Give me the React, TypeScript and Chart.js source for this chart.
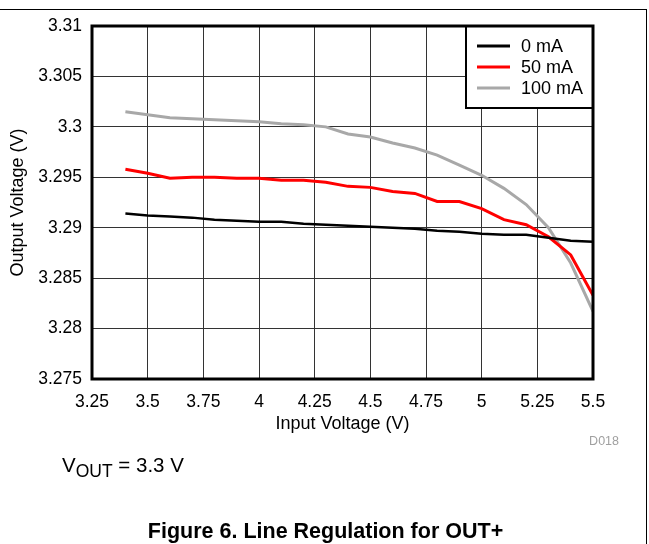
import React, { useEffect, useRef } from 'react';
import { Chart, registerables } from 'chart.js';

Chart.register(...registerables);

const inputVoltage = [3.4, 3.5, 3.6, 3.7, 3.8, 3.9, 4.0, 4.1, 4.2, 4.3, 4.4, 4.5, 4.6, 4.7, 4.8, 4.9, 5.0, 5.1, 5.2, 5.3, 5.4, 5.5];
const out0mA = [3.2914, 3.2912, 3.2911, 3.291, 3.2908, 3.2907, 3.2906, 3.2906, 3.2904, 3.2903, 3.2902, 3.2901, 3.29, 3.2899, 3.2897, 3.2896, 3.2894, 3.2893, 3.2893, 3.289, 3.2887, 3.2886];
const out50mA = [3.2958, 3.2954, 3.2949, 3.295, 3.295, 3.2949, 3.2949, 3.2947, 3.2947, 3.2945, 3.2941, 3.294, 3.2936, 3.2934, 3.2926, 3.2926, 3.2919, 3.2908, 3.2903, 3.2891, 3.2873, 3.2833];
const out100mA = [3.3015, 3.3012, 3.3009, 3.3008, 3.3007, 3.3006, 3.3005, 3.3003, 3.3002, 3.3, 3.2993, 3.299, 3.2984, 3.2979, 3.2972, 3.2962, 3.2952, 3.2939, 3.2923, 3.29, 3.2865, 3.2817];
const seriesLabels = ['0 mA', '50 mA', '100 mA'];
const seriesColors = ['#000000', '#ff0000', '#a8a8a8'];
const xTicks = [3.25, 3.5, 3.75, 4, 4.25, 4.5, 4.75, 5, 5.25, 5.5];
const xTickLabels = ['3.25', '3.5', '3.75', '4', '4.25', '4.5', '4.75', '5', '5.25', '5.5'];
const yTicks = [3.275, 3.28, 3.285, 3.29, 3.295, 3.3, 3.305, 3.31];
const yTickLabels = ['3.275', '3.28', '3.285', '3.29', '3.295', '3.3', '3.305', '3.31'];

const FONT = '"Liberation Sans", Arial, Helvetica, sans-serif';

const framePlugin = {
  id: 'frameAndLegend',
  afterDraw(chart: any) {
    const { ctx, chartArea } = chart;
    const right = chartArea.right;
    const top = chartArea.top;
    const w = 127;
    const h = 82;
    ctx.save();
    ctx.fillStyle = '#ffffff';
    ctx.fillRect(right - w, top, w, h);
    ctx.lineWidth = 2;
    ctx.strokeStyle = '#000';
    ctx.strokeRect(right - w, top, w, h);
    chart.data.datasets.forEach((ds: any, i: number) => {
      const y = top + 20 + i * 21;
      ctx.beginPath();
      ctx.moveTo(right - 116, y);
      ctx.lineTo(right - 83, y);
      ctx.strokeStyle = ds.borderColor;
      ctx.lineWidth = 3;
      ctx.stroke();
      ctx.fillStyle = '#000';
      ctx.font = `18px ${FONT}`;
      ctx.textBaseline = 'middle';
      ctx.textAlign = 'left';
      ctx.fillText(ds.label, right - 72, y + 1);
    });
    ctx.lineWidth = 3;
    ctx.strokeStyle = '#000';
    ctx.strokeRect(chartArea.left, chartArea.top, chartArea.right - chartArea.left, chartArea.bottom - chartArea.top);
    ctx.restore();
  },
};

export default function App() {
  const canvasRef = useRef<HTMLCanvasElement | null>(null);

  useEffect(() => {
    const canvas = canvasRef.current;
    if (!canvas) return;
    const series = [out0mA, out50mA, out100mA];
    const widths = [2.5, 3, 3];
    const chart = new Chart(canvas, {
      type: 'line',
      data: {
        datasets: series.map((s, k) => ({
          label: seriesLabels[k],
          data: inputVoltage.map((x, i) => ({ x, y: s[i] })),
          borderColor: seriesColors[k],
          backgroundColor: seriesColors[k],
          borderWidth: widths[k],
          pointRadius: 0,
          tension: 0,
          fill: false,
        })),
      },
      options: {
        responsive: false,
        animation: false,
        devicePixelRatio: 1,
        layout: { padding: { left: 0, right: 56, top: 26, bottom: 105 } },
        plugins: {
          legend: { display: false },
          tooltip: { enabled: false },
          title: { display: false },
        },
        scales: {
          x: {
            type: 'linear',
            min: 3.25,
            max: 5.5,
            afterBuildTicks: (s: any) => {
              s.ticks = xTicks.map((v) => ({ value: v }));
            },
            afterFit: (s: any) => {
              s.height = 60;
              s.paddingLeft = 0;
              s.paddingRight = 0;
            },
            ticks: {
              callback: (_v: any, i: number) => xTickLabels[i],
              font: { family: FONT, size: 17.5 },
              color: '#000',
              padding: 13,
              maxRotation: 0,
              autoSkip: false,
            },
            grid: { color: '#333333', lineWidth: 1, drawTicks: false },
            border: { display: false },
            title: {
              display: true,
              text: 'Input Voltage (V)',
              font: { family: FONT, size: 18 },
              color: '#000',
              padding: { top: 0, bottom: 4 },
            },
          },
          y: {
            type: 'linear',
            min: 3.275,
            max: 3.31,
            afterBuildTicks: (s: any) => {
              s.ticks = yTicks.map((v) => ({ value: v }));
            },
            afterFit: (s: any) => {
              s.width = 92;
              s.paddingTop = 0;
              s.paddingBottom = 0;
            },
            ticks: {
              callback: (_v: any, i: number) => yTickLabels[i],
              font: { family: FONT, size: 17.5 },
              color: '#000',
              padding: 10,
              autoSkip: false,
            },
            grid: { color: '#333333', lineWidth: 1, drawTicks: false },
            border: { display: false },
            title: {
              display: true,
              text: 'Output Voltage (V)',
              font: { family: FONT, size: 18 },
              color: '#000',
              padding: { top: 7, bottom: 0 },
            },
          },
        },
      } as any,
      plugins: [framePlugin],
    });
    return () => chart.destroy();
  }, []);

  return (
    <div style={{ position: 'fixed', left: 0, top: 0, width: 649, height: 544, background: '#fff', fontFamily: FONT, overflow: 'hidden' }}>
      <div
        style={{
          position: 'absolute',
          left: -5,
          top: 8.5,
          width: 651.5,
          height: 560,
          boxSizing: 'border-box',
          borderTop: '1.5px solid #000',
          borderRight: '1.5px solid #000',
        }}
      />
      <canvas ref={canvasRef} width={649} height={544} style={{ position: 'absolute', left: 0, top: 0, width: 649, height: 544 }} />
      <div style={{ position: 'absolute', right: 30, top: 433, fontSize: 12.5, color: '#a0a0a0', lineHeight: '16px' }}>D018</div>
      <div style={{ position: 'absolute', left: 62, top: 454, fontSize: 20.5, color: '#000', lineHeight: '22px', whiteSpace: 'nowrap' }}>
        V<span style={{ fontSize: 17.5, position: 'relative', top: 5 }}>OUT</span> = 3.3 V
      </div>
      <div style={{ position: 'absolute', left: 0, width: 651, top: 519, textAlign: 'center', fontSize: 21.5, fontWeight: 'bold', color: '#000', lineHeight: '24px', whiteSpace: 'nowrap' }}>
        Figure 6. Line Regulation for OUT+
      </div>
    </div>
  );
}
